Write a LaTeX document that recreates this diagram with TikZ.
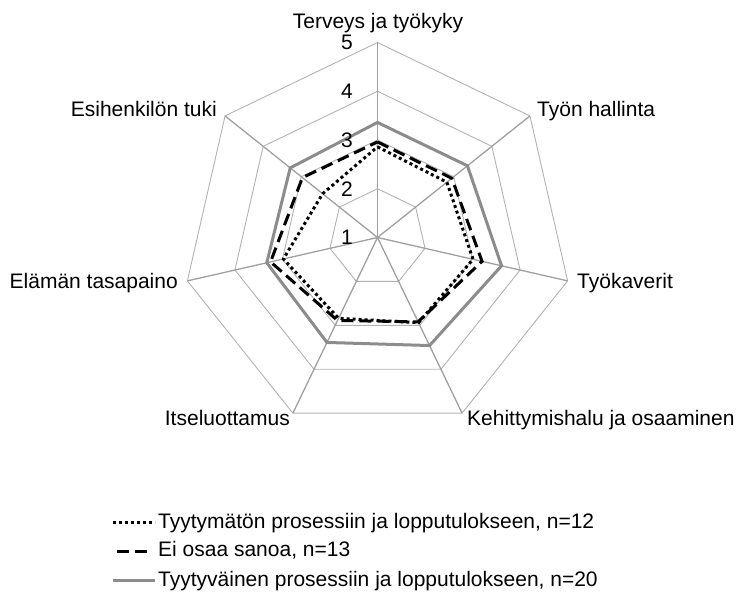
\documentclass[tikz,border=0pt]{standalone}
\usepackage{fontspec}
\setmainfont{Liberation Sans}
\usetikzlibrary{calc}
\definecolor{gridgray}{RGB}{178,178,178}
\definecolor{spokegray}{RGB}{160,160,160}
\definecolor{sergray}{RGB}{140,140,140}
\begin{document}
\begin{tikzpicture}[x=1pt,y=-1pt,
  gridline/.style={draw=gridgray, line width=0.9pt},
  spokeline/.style={draw=spokegray, line width=1.3pt},
  serdot/.style={draw=black, line width=3pt, dash pattern=on 3pt off 3pt},
  serdash/.style={draw=black, line width=3pt, dash pattern=on 12pt off 6pt},
  sersolid/.style={draw=sergray, line width=3pt},
  lbl/.style={font=\fontsize{21}{25}\selectfont, inner sep=0pt},
]
\useasboundingbox (0,0) rectangle (737,593);
\coordinate (o) at (377.5,237.5);

\begin{scope}[shift={(o)}]
  % outer ends of the seven axes (value 5)
  \foreach \k in {0,...,6}
    \coordinate (v\k) at ({90-\k*360/7}:195pt);
  % grid polygons for the values 2 to 5
  \foreach \lv in {2,...,5}
    \draw[gridline] (90:{(\lv-1)*48.75pt})
      \foreach \k in {1,...,6} { -- ({90-\k*360/7}:{(\lv-1)*48.75pt}) } -- cycle;
  % axes
  \foreach \k in {0,...,6}
    \draw[spokeline] (o) -- (v\k);

  % series: Tyytymätön
  \foreach \k/\v in {0/2.86,1/2.82,2/3.01,3/2.94,4/2.84,5/2.98,6/2.44}
    \coordinate (a\k) at ({90-\k*360/7}:{(\v-1)*48.75pt});
  % series: Ei osaa sanoa
  \foreach \k/\v in {0/2.96,1/2.95,2/3.20,3/2.92,4/2.89,5/3.25,6/2.97}
    \coordinate (b\k) at ({90-\k*360/7}:{(\v-1)*48.75pt});
  % series: Tyytyväinen
  \foreach \k/\v in {0/3.36,1/3.36,2/3.61,3/3.46,4/3.39,5/3.33,6/3.29}
    \coordinate (s\k) at ({90-\k*360/7}:{(\v-1)*48.75pt});
\end{scope}

\draw[serdot] (a0) -- (a1) -- (a2) -- (a3) -- (a4) -- (a5) -- (a6) -- cycle;
\draw[serdash] (b0) -- (b1) -- (b2) -- (b3) -- (b4) -- (b5) -- (b6) -- cycle;
\draw[sersolid] (s0) -- (s1) -- (s2) -- (s3) -- (s4) -- (s5) -- (s6) -- cycle;

% value labels
\foreach \lv in {1,...,5}
  \node[lbl, anchor=east] (n\lv) at (353,{237.5-(\lv-1)*48.75}) {\lv};

% category labels
\node[lbl, anchor=base] (tTerveys) at (378,28.3) {Terveys ja työkyky};
\node[lbl, anchor=base west] (tHallinta) at (537,116.7) {Työn hallinta};
\node[lbl, anchor=base west] (tKaverit) at (577,289) {Työkaverit};
\node[lbl, anchor=base west] (tKehitys) at (467,426) {Kehittymishalu ja osaaminen};
\node[lbl, anchor=base east] (tItse) at (290,426) {Itseluottamus};
\node[lbl, anchor=base east] (tElama) at (178,288.5) {Elämän tasapaino};
\node[lbl, anchor=base east] (tEsi) at (217,116.7) {Esihenkilön tuki};

% legend
\coordinate (la1) at (113,523);  \coordinate (lb1) at (155,523);
\coordinate (la2) at (117,551.5);\coordinate (lb2) at (147,551.5);
\coordinate (la3) at (113,581);  \coordinate (lb3) at (155,581);
\draw[serdot] (la1) -- (lb1);
\draw[serdash] (la2) -- (lb2);
\draw[sersolid] (la3) -- (lb3);
\node[lbl, anchor=base west] (leg1) at (158,528.5) {Tyytymätön prosessiin ja lopputulokseen, n=12};
\node[lbl, anchor=base west] (leg2) at (158,557) {Ei osaa sanoa, n=13};
\node[lbl, anchor=base west] (leg3) at (158,586.5) {Tyytyväinen prosessiin ja lopputulokseen, n=20};
\end{tikzpicture}
\end{document}
